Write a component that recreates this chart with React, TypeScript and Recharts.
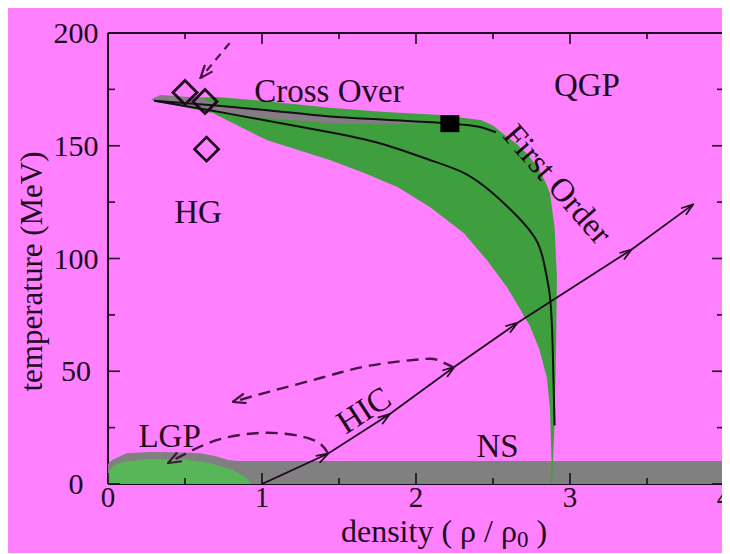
import { ComposedChart, Scatter, XAxis, YAxis, Label } from "recharts";

const PINK = "#ff80ff";
const GREEN = "#3f9f3f";
const LGP_GREEN = "#58b658";
const GREY = "#808080";
const BAND_GREY = "#857a85";
const INK = "#1e081e";
const DASH_INK = "#441444";
const SERIF = '"Liberation Serif", "Times New Roman", serif';

const xTicks = [0, 0.5, 1, 1.5, 2, 2.5, 3, 3.5, 4];
const yTicks = [0, 25, 50, 75, 100, 125, 150, 175, 200];
const xRange = [0, 4];
const yRange = [0, 200];

// grey strip along T = 10 with the liquid-gas cap on the left
const groundStrip = [
  { x: 0, y: 0 }, { x: 0, y: 9 }, { x: 0.03, y: 10.8 }, { x: 0.12, y: 13.6 },
  { x: 0.27, y: 14.2 }, { x: 0.45, y: 14.1 }, { x: 0.6, y: 13.6 }, { x: 0.7, y: 12.3 },
  { x: 0.78, y: 10.6 }, { x: 0.85, y: 10.2 }, { x: 4, y: 10.2 }, { x: 4, y: 0 },
];

const lgpRegion = [
  { x: 0, y: 0 }, { x: 0, y: 5 }, { x: 0.03, y: 7.8 }, { x: 0.1, y: 9.9 },
  { x: 0.27, y: 11 }, { x: 0.49, y: 11 }, { x: 0.66, y: 9.3 }, { x: 0.81, y: 6.2 },
  { x: 0.9, y: 2.7 }, { x: 0.93, y: 0 },
];

// mixed-phase region: upper edge, right edge, then lower edge back to the tip
const mixedPhase = [
  { x: 0.3, y: 170 }, { x: 0.5, y: 171.2 }, { x: 0.71, y: 171.6 }, { x: 1.0, y: 170 },
  { x: 1.44, y: 166.8 }, { x: 1.8, y: 165 }, { x: 2.16, y: 163.6 }, { x: 2.42, y: 161.4 },
  { x: 2.5, y: 159 }, { x: 2.58, y: 154.5 }, { x: 2.65, y: 151 }, { x: 2.72, y: 146.5 },
  { x: 2.79, y: 140.6 }, { x: 2.84, y: 134 }, { x: 2.87, y: 129 }, { x: 2.9, y: 114 },
  { x: 2.915, y: 92 }, { x: 2.91, y: 62 }, { x: 2.9, y: 27 }, { x: 2.89, y: 10.6 },
  { x: 2.885, y: 0 }, { x: 2.877, y: 0 }, { x: 2.88, y: 11 }, { x: 2.87, y: 33 },
  { x: 2.85, y: 47 }, { x: 2.8, y: 60 }, { x: 2.74, y: 70 }, { x: 2.68, y: 77 },
  { x: 2.59, y: 87.4 }, { x: 2.46, y: 99.3 }, { x: 2.31, y: 111.3 }, { x: 2.09, y: 122.8 },
  { x: 1.88, y: 131.7 }, { x: 1.66, y: 138 }, { x: 1.44, y: 143.7 }, { x: 1.03, y: 152.5 },
  { x: 0.68, y: 164.5 },
];

const crossoverBand = [
  { x: 0.28, y: 170.6 }, { x: 0.34, y: 172.5 }, { x: 0.6, y: 171.3 }, { x: 0.73, y: 167.6 },
  { x: 1.0, y: 166 }, { x: 1.44, y: 163 }, { x: 1.8, y: 161.5 }, { x: 2.18, y: 159.9 },
  { x: 1.8, y: 159.5 }, { x: 1.44, y: 160 }, { x: 1.0, y: 162.4 }, { x: 0.7, y: 165.2 },
  { x: 0.3, y: 169.6 },
];

const upperBoundary = [
  { x: 0.3, y: 170 }, { x: 0.7, y: 167.8 }, { x: 1.0, y: 166 }, { x: 1.44, y: 163 },
  { x: 1.8, y: 161.5 }, { x: 2.22, y: 159.8 }, { x: 2.4, y: 158.5 }, { x: 2.52, y: 156 },
];

const lowerBoundary = [
  { x: 0.3, y: 170 }, { x: 0.68, y: 165.5 }, { x: 1.0, y: 161.5 }, { x: 1.44, y: 156 },
  { x: 1.77, y: 151 }, { x: 2.09, y: 143.7 }, { x: 2.31, y: 138 }, { x: 2.48, y: 130 },
  { x: 2.66, y: 118.5 }, { x: 2.79, y: 107 }, { x: 2.84, y: 95 }, { x: 2.87, y: 83 },
  { x: 2.887, y: 62 }, { x: 2.9, y: 26 },
];

const hicPath = [
  { x: 1.0, y: 0 }, { x: 1.43, y: 13.5 }, { x: 1.83, y: 31 }, { x: 2.25, y: 52 },
  { x: 2.66, y: 71.5 }, { x: 3.4, y: 104 }, { x: 3.8, y: 124 },
];

const freezeOutLong = [
  { x: 2.25, y: 51.5 }, { x: 2.14, y: 55 }, { x: 2.03, y: 55.3 }, { x: 1.7, y: 52.5 },
  { x: 1.38, y: 47 }, { x: 1.05, y: 41 }, { x: 0.81, y: 36.4 },
];

const freezeOutShort = [
  { x: 1.43, y: 13.5 }, { x: 1.35, y: 19 }, { x: 1.15, y: 22.3 }, { x: 0.92, y: 22.3 },
  { x: 0.7, y: 19.3 }, { x: 0.52, y: 14 }, { x: 0.39, y: 9.3 },
];

const pointer = [{ x: 0.79, y: 195.5 }, { x: 0.6, y: 180 }];

const chemicalFreezeOut = [
  { x: 0.5, y: 173.6 }, { x: 0.63, y: 169.6 }, { x: 0.64, y: 148.5 },
];

const criticalPoint = [{ x: 2.22, y: 159.8 }];

const notes = [
  { text: "Cross Over", x: 1.435, y: 169.4 },
  { text: "QGP", x: 3.11, y: 172 },
  { text: "HG", x: 0.585, y: 115.7 },
  { text: "LGP", x: 0.4, y: 16.4 },
  { text: "NS", x: 2.53, y: 12 },
  { text: "HIC", x: 1.66, y: 32.8 },
  { text: "First Order", x: 2.92, y: 133 },
];
const noteAngle: Record<string, number> = { HIC: -33, "First Order": 49 };

// corners of the frame, used by the top and right axes
const frameCorners = [
  { x: xRange[0], y: yRange[0] },
  { x: xRange[1], y: yRange[1] },
];

const Hidden = () => <g />;

const Diamond = ({ cx, cy }: any) => (
  <path
    d={`M${cx},${cy - 12} L${cx + 12},${cy} L${cx},${cy + 12} L${cx - 12},${cy} Z`}
    fill="none"
    stroke={INK}
    strokeWidth={2.8}
  />
);

const Square = ({ cx, cy }: any) => (
  <rect x={cx - 9.5} y={cy - 8.5} width={19} height={17} fill="#000" />
);

const Note = ({ cx, cy, payload }: any) => {
  const rot = noteAngle[payload.text];
  return (
    <text
      x={cx}
      y={cy}
      textAnchor="middle"
      dominantBaseline={rot ? "central" : "alphabetic"}
      transform={rot ? `rotate(${rot} ${cx} ${cy})` : undefined}
      fontFamily={SERIF}
      fontSize={33}
      fill={INK}
    >
      {payload.text}
    </text>
  );
};

const BottomTick = ({ x, y, payload }: any) => {
  const major = Number.isInteger(payload.value);
  return (
    <g>
      <line x1={x} x2={x} y1={y} y2={y - (major ? 11 : 6)} stroke={INK} strokeWidth={1.6} />
      {major && (
        <text x={x} y={y + 23} textAnchor="middle" fontFamily={SERIF} fontSize={29} fill={INK}>
          {payload.value}
        </text>
      )}
    </g>
  );
};

const TopTick = ({ x, y, payload }: any) => {
  const major = Number.isInteger(payload.value);
  return <line x1={x} x2={x} y1={y} y2={y + (major ? 11 : 6)} stroke={INK} strokeWidth={1.6} />;
};

const LeftTick = ({ x, y, payload }: any) => {
  const major = payload.value % 50 === 0;
  return (
    <g>
      <line x1={x} x2={x + (major ? 12 : 7)} y1={y} y2={y} stroke={INK} strokeWidth={1.6} />
      {major && (
        <text x={x - 32} y={y + 10} textAnchor="middle" fontFamily={SERIF} fontSize={30} fill={INK}>
          {payload.value}
        </text>
      )}
    </g>
  );
};

const RightTick = ({ x, y, payload }: any) => {
  const major = payload.value % 50 === 0;
  return <line x1={x} x2={x - (major ? 12 : 7)} y1={y} y2={y} stroke={INK} strokeWidth={1.6} />;
};

const YTitle = ({ viewBox }: any) => {
  const cx = viewBox.x + 15;
  const cy = viewBox.y + viewBox.height / 2 + 13;
  return (
    <text
      x={cx}
      y={cy}
      textAnchor="middle"
      dominantBaseline="central"
      transform={`rotate(-90 ${cx} ${cy})`}
      fontFamily={SERIF}
      fontSize={31}
      fill={INK}
    >
      temperature (MeV)
    </text>
  );
};

const XTitle = ({ viewBox }: any) => (
  <text
    x={viewBox.x + viewBox.width / 2 + 28}
    y={viewBox.y + 58}
    textAnchor="middle"
    fontFamily={SERIF}
    fontSize={32}
    fill={INK}
  >
    <tspan>density ( ρ / ρ</tspan>
    <tspan fontSize={23} dy={5}>0</tspan>
    <tspan dy={-5}> )</tspan>
  </text>
);

const axisLine = { stroke: INK, strokeWidth: 2 };

export default function App() {
  return (
    <div style={{ position: "relative", width: 722, height: 550, marginTop: -5, background: PINK }}>
      <svg width={0} height={0} style={{ position: "absolute" }}>
        <defs>
          <marker id="arrowSolid" viewBox="0 0 14 10" refX={13} refY={5} markerWidth={14} markerHeight={10} orient="auto" markerUnits="userSpaceOnUse">
            <path d="M1,1 L13,5 L1,9" fill="none" stroke={INK} strokeWidth={1.7} />
          </marker>
          <marker id="arrowDash" viewBox="0 0 15 12" refX={14} refY={6} markerWidth={15} markerHeight={12} orient="auto" markerUnits="userSpaceOnUse">
            <path d="M1,1 L14,6 L1,11" fill="none" stroke={DASH_INK} strokeWidth={2.2} />
          </marker>
        </defs>
      </svg>
      <ComposedChart width={722} height={550} margin={{ top: 29, right: 5, bottom: 29, left: 8 }}>
        <Scatter data={groundStrip} shape={Hidden} line={{ fill: GREY, stroke: "none" }} isAnimationActive={false} />
        <Scatter data={lgpRegion} shape={Hidden} line={{ fill: LGP_GREEN, stroke: "none" }} isAnimationActive={false} />
        <Scatter data={mixedPhase} shape={Hidden} line={{ fill: GREEN, stroke: "none" }} isAnimationActive={false} />
        <Scatter data={crossoverBand} shape={Hidden} line={{ fill: BAND_GREY, stroke: "none" }} isAnimationActive={false} />
        <Scatter data={upperBoundary} shape={Hidden} line={{ fill: "none", stroke: "#111", strokeWidth: 2 }} lineJointType="monotoneX" isAnimationActive={false} />
        <Scatter data={lowerBoundary} shape={Hidden} line={{ fill: "none", stroke: "#111", strokeWidth: 2 }} lineJointType="natural" isAnimationActive={false} />
        <Scatter
          data={hicPath}
          shape={Hidden}
          line={{ fill: "none", stroke: INK, strokeWidth: 1.8, markerMid: "url(#arrowSolid)", markerEnd: "url(#arrowSolid)" }}
          isAnimationActive={false}
        />
        <Scatter
          data={freezeOutLong}
          shape={Hidden}
          line={{ fill: "none", stroke: DASH_INK, strokeWidth: 2.4, strokeDasharray: "12 7", markerEnd: "url(#arrowDash)" }}
          lineJointType="natural"
          isAnimationActive={false}
        />
        <Scatter
          data={freezeOutShort}
          shape={Hidden}
          line={{ fill: "none", stroke: DASH_INK, strokeWidth: 2.4, strokeDasharray: "12 7", markerEnd: "url(#arrowDash)" }}
          lineJointType="natural"
          isAnimationActive={false}
        />
        <Scatter
          data={pointer}
          shape={Hidden}
          line={{ fill: "none", stroke: DASH_INK, strokeWidth: 2.2, strokeDasharray: "8 6", markerEnd: "url(#arrowDash)" }}
          isAnimationActive={false}
        />
        <Scatter data={chemicalFreezeOut} shape={Diamond} isAnimationActive={false} />
        <Scatter data={criticalPoint} shape={Square} isAnimationActive={false} />
        <Scatter data={notes} shape={Note} isAnimationActive={false} />
        <Scatter xAxisId="top" yAxisId="right" data={frameCorners} shape={Hidden} isAnimationActive={false} />

        <XAxis
          dataKey="x"
          type="number"
          domain={xRange}
          ticks={xTicks}
          interval={0}
          allowDataOverflow
          height={40}
          tickSize={0}
          tickMargin={0}
          tick={BottomTick}
          axisLine={axisLine}
        >
          <Label content={XTitle} />
        </XAxis>
        <XAxis
          xAxisId="top"
          orientation="top"
          dataKey="x"
          type="number"
          domain={xRange}
          ticks={xTicks}
          interval={0}
          allowDataOverflow
          height={1}
          tickSize={0}
          tickMargin={0}
          tick={TopTick}
          axisLine={axisLine}
        />
        <YAxis
          dataKey="y"
          type="number"
          domain={yRange}
          ticks={yTicks}
          interval={0}
          allowDataOverflow
          width={92}
          tickSize={0}
          tickMargin={0}
          tick={LeftTick}
          axisLine={axisLine}
        >
          <Label content={YTitle} />
        </YAxis>
        <YAxis
          yAxisId="right"
          orientation="right"
          dataKey="y"
          type="number"
          domain={yRange}
          ticks={yTicks}
          interval={0}
          allowDataOverflow
          width={1}
          tickSize={0}
          tickMargin={0}
          tick={RightTick}
          axisLine={axisLine}
        />
      </ComposedChart>
    </div>
  );
}
